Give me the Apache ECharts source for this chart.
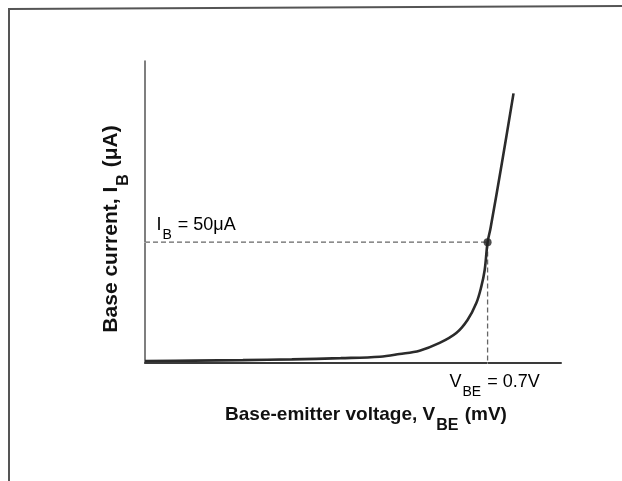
<!DOCTYPE html>
<html>
<head>
<meta charset="utf-8">
<script src="https://cdn.jsdelivr.net/npm/echarts@6/dist/echarts.min.js"></script>
<style>
  html, body { margin: 0; padding: 0; background: #fff; }
  #chart { width: 622px; height: 481px; }
</style>
</head>
<body>
<div id="chart"></div>
<script>
// Diode-like input characteristic of a transistor: I_B against V_BE
const vbe = [0, 0.1, 0.2, 0.3, 0.4, 0.48, 0.52, 0.561, 0.602, 0.636, 0.659, 0.677, 0.687, 0.694, 0.70, 0.706, 0.729, 0.753];
const ib  = [0.8, 1.0, 1.2, 1.5, 2.0, 2.6, 3.7, 5.1, 8.3, 12.4, 17.8, 24.8, 31.5, 38.4, 50, 55.8, 82.5, 111.6];

// Operating point
const opV = 0.7;
const opI = 50;

// Axis extents
const xMax = 0.85;
const yMax = 125;

const curve = vbe.map((v, i) => [v, ib[i]]);
const font = 'Liberation Sans, Arial, sans-serif';

function titleRich(size, sub, drop) {
  return {
    b: { fontFamily: font, fontWeight: 'bold', fontSize: size, color: '#111', lineHeight: size + 10, verticalAlign: 'top', padding: [0, 0, drop, 0] },
    s: { fontFamily: font, fontWeight: 'bold', fontSize: sub, color: '#111', lineHeight: size + 10, verticalAlign: 'bottom', padding: [drop, 1, 0, 1] }
  };
}

const chart = echarts.init(document.getElementById('chart'));
chart.setOption({
  backgroundColor: '#ffffff',
  animation: false,
  grid: { left: 145, right: 61, top: 61, bottom: 118 },
  xAxis: {
    type: 'value', min: 0, max: xMax,
    axisLine: { lineStyle: { color: '#3a3a3a', width: 2 } },
    axisTick: { show: false }, axisLabel: { show: false }, splitLine: { show: false },
    name: '{b|Base-emitter voltage, V}{s|BE}{b| (mV)}',
    nameLocation: 'middle', nameGap: 42,
    nameTextStyle: { padding: [0, 0, 0, 26], rich: titleRich(19, 16, 6) }
  },
  yAxis: {
    type: 'value', min: 0, max: yMax,
    axisLine: { lineStyle: { color: '#555', width: 1.5 } },
    axisTick: { show: false }, axisLabel: { show: false }, splitLine: { show: false },
    name: '{b|Base current, I}{s|B}{b| (μA)}',
    nameLocation: 'middle', nameGap: 13,
    nameTextStyle: { padding: [0, 0, 0, -34], rich: titleRich(21, 16, 1) }
  },
  graphic: [
    { type: 'line', shape: { x1: 9, y1: 9, x2: 622, y2: 6 }, style: { stroke: '#555', lineWidth: 2 } },
    { type: 'line', shape: { x1: 9, y1: 8, x2: 9, y2: 481 }, style: { stroke: '#555', lineWidth: 2 } }
  ],
  series: [
    {
      type: 'line',
      data: [[0, opI], [opV, opI], [opV, 0]],
      symbol: 'none',
      lineStyle: { color: '#666', width: 1.3, type: [5, 3] },
      z: 2
    },
    {
      type: 'line',
      data: curve,
      smooth: 0.35,
      symbol: 'none',
      lineStyle: { color: '#2b2b2b', width: 2.6 },
      z: 3
    },
    {
      type: 'scatter',
      data: [[opV, opI]],
      symbol: 'circle', symbolSize: 8,
      itemStyle: { color: '#222' },
      z: 4
    },
    {
      type: 'scatter',
      symbolSize: 1,
      itemStyle: { color: '#fff', opacity: 1 },
      data: [
        { value: [0, opI], label: { show: true, position: 'right', offset: [6, -13],
          formatter: '{n|I}{s|B}{n| = ' + opI + 'μA}' } },
        { value: [opV, 0], label: { show: true, position: 'bottom', offset: [7, 5],
          formatter: '{n|V}{s|BE}{n| = ' + opV + 'V}' } }
      ],
      label: {
        color: '#000',
        rich: {
          n: { fontFamily: font, fontSize: 18, color: '#000', lineHeight: 26, verticalAlign: 'top', padding: [0, 0, 8, 0] },
          s: { fontFamily: font, fontSize: 14, color: '#000', lineHeight: 26, verticalAlign: 'bottom', padding: [7, 1, 0, 1] }
        }
      },
      z: 5
    }
  ]
});
</script>
</body>
</html>
